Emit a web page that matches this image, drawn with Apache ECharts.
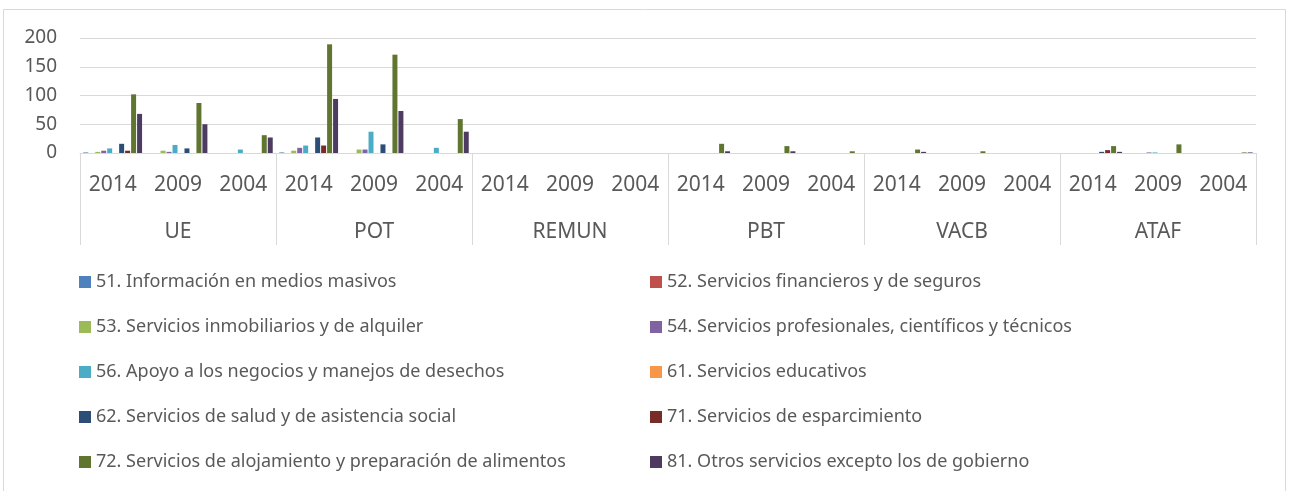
<!DOCTYPE html>
<html>
<head>
<meta charset="utf-8">
<script src="https://cdn.jsdelivr.net/npm/echarts@6/dist/echarts.min.js"></script>
<style>html,body{margin:0;padding:0;background:#fff;}#c{width:1289px;height:491px;}</style>
</head>
<body>
<div id="c"></div>
<script>
const groups = ['UE', 'POT', 'REMUN', 'PBT', 'VACB', 'ATAF'];
const years = ['2014', '2009', '2004'];
const yTicks = [0, 50, 100, 150, 200];

const seriesNames = [
  '51. Información en medios masivos',
  '52. Servicios financieros y de seguros',
  '53. Servicios inmobiliarios y de alquiler',
  '54. Servicios profesionales, científicos y técnicos',
  '56. Apoyo a los negocios y manejos de desechos',
  '61. Servicios educativos',
  '62. Servicios de salud y de asistencia social',
  '71. Servicios de esparcimiento',
  '72. Servicios de alojamiento y preparación de alimentos',
  '81. Otros servicios excepto los de gobierno'
];
const seriesColors = ['#4F81BD', '#C0504D', '#9BBB59', '#8064A2', '#4BACC6', '#F79646', '#2C4D75', '#772C2A', '#5F7530', '#4D3B62'];

// order: UE 2014,2009,2004 | POT | REMUN | PBT | VACB | ATAF
const s51 = [1, 0, 0, 1, 0, 0, 0, 0, 0, 0, 0, 0, 0, 0, 0, 0, 0, 0];
const s52 = [0, 0, 0, 0, 0, 0, 0, 0, 0, 0, 0, 0, 0, 0, 0, 0, 0, 0];
const s53 = [2, 4, 0, 4, 6, 0, 0, 0, 0, 0, 0, 0, 0, 0, 0, 0, 0, 0];
const s54 = [4, 2, 0, 9, 6, 0, 0, 0, 0, 0, 0, 0, 0, 0, 0, 0, 1, 0];
const s56 = [8, 14, 6, 13, 37, 9, 0, 0, 0, 0, 0, 0, 0, 0, 0, 0, 1, 0];
const s61 = [0, 0, 0, 0, 0, 0, 0, 0, 0, 0, 0, 0, 0, 0, 0, 0, 0, 0];
const s62 = [16, 8, 0, 27, 15, 0, 0, 0, 0, 0, 0, 0, 0, 0, 0, 2, 0, 0];
const s71 = [4, 0, 0, 13, 0, 0, 0, 0, 0, 0, 0, 0, 0, 0, 0, 5, 0, 0];
const s72 = [102, 87, 31, 189, 171, 59, 0, 0, 0, 16, 12, 3, 6, 3, 0, 12, 15, 1];
const s81 = [68, 50, 27, 94, 73, 37, 0, 0, 0, 3, 3, 0, 2, 0, 0, 2, 0, 1];
const seriesData = [s51, s52, s53, s54, s56, s61, s62, s71, s72, s81];

const yearCats = [];
groups.forEach(() => years.forEach(y => yearCats.push(y)));

const FONT = 'Noto Sans';
const TXT = '#595959';
const GRID = '#D9D9D9';

const chart = echarts.init(document.getElementById('c'), null, {renderer: 'canvas'});
const legendItem = (names) => names.map(n => ({name: n, icon: 'rect'}));

chart.setOption({
  animation: false,
  backgroundColor: '#fff',
  graphic: [{
    type: 'rect', shape: {x: 3.5, y: 9.5, width: 1282, height: 500},
    style: {fill: 'none', stroke: GRID, lineWidth: 1}, silent: true, z: -1
  }],
  grid: {left: 80, right: 33, top: 38, bottom: 338, containLabel: false},
  legend: [
    {
      data: legendItem(seriesNames.filter((_, i) => i % 2 === 0)),
      orient: 'vertical', left: 74, top: 267, itemWidth: 12, itemHeight: 12, itemGap: 25,
      textStyle: {fontFamily: FONT, fontSize: 18, color: TXT, lineHeight: 20}, selectedMode: false
    },
    {
      data: legendItem(seriesNames.filter((_, i) => i % 2 === 1)),
      orient: 'vertical', left: 645, top: 267, itemWidth: 12, itemHeight: 12, itemGap: 25,
      textStyle: {fontFamily: FONT, fontSize: 18, color: TXT, lineHeight: 20}, selectedMode: false
    }
  ],
  xAxis: [
    {
      type: 'category', data: yearCats, position: 'bottom',
      axisLine: {show: true, lineStyle: {color: GRID, width: 1}},
      axisTick: {show: false},
      axisLabel: {interval: 0, margin: 22, fontFamily: FONT, fontSize: 21, color: TXT}
    },
    {
      type: 'category', data: groups, position: 'bottom', gridIndex: 0,
      axisLine: {show: false},
      axisTick: {show: true, interval: 0, length: 92, lineStyle: {color: GRID, width: 1}},
      axisLabel: {interval: 0, margin: 69, fontFamily: FONT, fontSize: 21, color: TXT}
    }
  ],
  yAxis: {
    type: 'value', min: yTicks[0], max: yTicks[yTicks.length - 1], interval: 50,
    axisLine: {show: false}, axisTick: {show: false},
    splitLine: {lineStyle: {color: GRID, width: 1}},
    axisLabel: {margin: 23, fontFamily: FONT, fontSize: 19, color: TXT}
  },
  series: seriesNames.map((n, i) => ({
    name: n, type: 'bar', xAxisIndex: 0, data: seriesData[i],
    itemStyle: {color: seriesColors[i]},
    barGap: '20%', barCategoryGap: '10%'
  }))
});
</script>
</body>
</html>
